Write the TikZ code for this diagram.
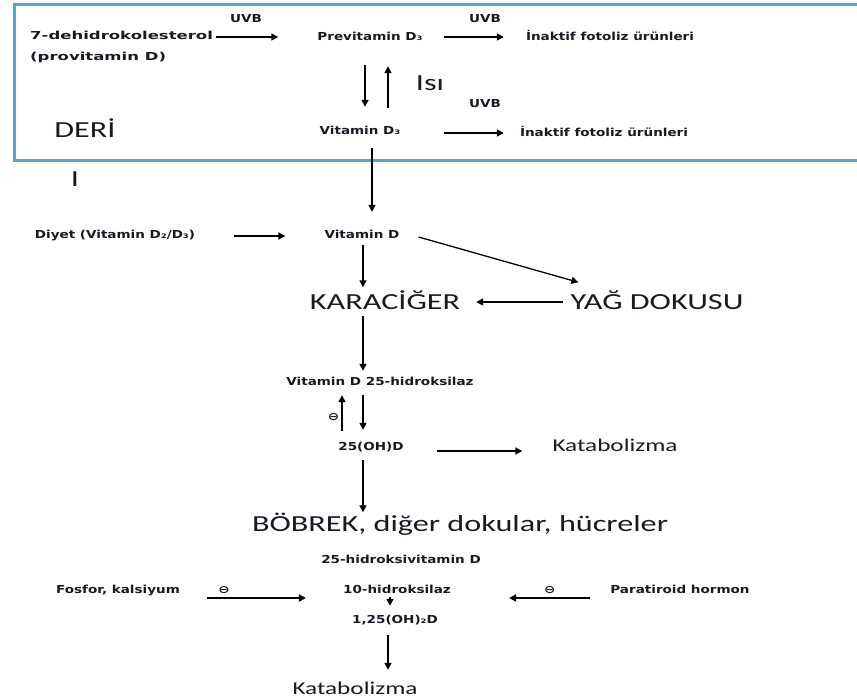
\documentclass[tikz,border=0pt]{standalone}
\usepackage{fontspec}
\usetikzlibrary{arrows.meta}
\newfontfamily\smallf[FakeStretch=1.23]{DejaVu Sans}
\newfontfamily\widef[FakeStretch=1.5]{DejaVu Sans}
\newfontfamily\bigf[FakeStretch=1.4]{Carlito}
\definecolor{skinblue}{RGB}{75,172,198}
\definecolor{txt}{RGB}{25,25,35}
\tikzset{
  sm/.style={font={\smallf\bfseries\fontsize{11}{13}\selectfont}, text=txt, inner sep=0pt, text height=8pt, text depth=2pt},
  big/.style={font={\bigf\fontsize{23}{27}\selectfont}, text=txt, inner sep=0pt, text height=17pt, text depth=2pt},
  mid/.style={font={\bigf\fontsize{18}{22}\selectfont}, text=txt, inner sep=0pt, text height=13pt, text depth=1pt},
  minus/.style={font={\smallf\bfseries\fontsize{11}{13}\selectfont}, text=txt, inner sep=0pt},
  arr/.style={-{Triangle[length=7pt,width=7pt]}, line width=1.6pt, draw=black},
  skin/.style={draw=skinblue, line width=3pt}
}
\begin{document}
\begin{tikzpicture}[x=1pt,y=-1pt]
\useasboundingbox (0,0) rectangle (857,699);
% skin box (open on the right)
\draw[skin] (875,4) -- (14,4) -- (14,160) -- (875,160);

% skin region nodes
\node[font={\widef\bfseries\fontsize{11}{21}\selectfont}, text=txt, inner sep=0pt, align=left, anchor=north west] (dehyd) at (30,31) {7-dehidrokolesterol\\(provitamin D)};
\node[sm] (uvb1) at (246,19) {UVB};
\node[sm] (previt) at (370,37) {Previtamin D₃};
\node[sm] (uvb2) at (485,19) {UVB};
\node[sm] (inakt1) at (610,37) {İnaktif fotoliz ürünleri};
\node[big] (isi) at (430,83) {Isı};
\node[sm] (uvb3) at (485,104) {UVB};
\node[sm] (vitd3) at (360,131) {Vitamin D₃};
\node[sm] (inakt2) at (604,133) {İnaktif fotoliz ürünleri};
\node[big] (deri) at (85,130) {DERİ};
\node[big] (bar) at (75,179) {I};

% middle
\node[sm] (diyet) at (115,235) {Diyet (Vitamin D₂/D₃)};
\node[sm] (vitd) at (362,235) {Vitamin D};
\node[big] (karaciger) at (385,302) {KARACİĞER};
\node[big] (yag) at (657,302) {YAĞ DOKUSU};
\node[sm] (hidrok) at (380,382) {Vitamin D 25-hidroksilaz};
\node[sm] (oh25) at (371,447) {25(OH)D};
\node[mid] (katab1) at (615,445) {Katabolizma};
\node[big] (bobrek) at (460,524) {BÖBREK, diğer dokular, hücreler};

% kidney region
\node[sm] (hidvit) at (401,560) {25-hidroksivitamin D};
\node[sm] (fosfor) at (118,590) {Fosfor, kalsiyum};
\node[sm] (alfa) at (397,590) {10-hidroksilaz};
\node[sm] (parat) at (680,590) {Paratiroid hormon};
\node[sm] (dihyd) at (395,620) {1,25(OH)₂D};
\node[mid] (katab2) at (355,688) {Katabolizma};

% arrows in the skin box
\draw[arr, shorten <=3pt, shorten >=39pt] (dehyd.east |- previt) -- (previt.west);
\draw[arr, shorten <=21pt, shorten >=22pt] (previt.east) -- (inakt1.west);
\draw[arr, shorten <=23pt, shorten >=19pt] ([xshift=-5pt]previt.south) -- ([xshift=5pt]vitd3.north);
\draw[arr, shorten <=18pt, shorten >=24pt] ([xshift=28pt]vitd3.north) -- ([xshift=18pt]previt.south);
\draw[arr, shorten <=43pt, shorten >=16pt] ([yshift=-2pt]vitd3.east) -- ([yshift=-2pt]vitd3.east -| inakt2.west);

% down to Vitamin D
\draw[arr, shorten <=12pt, shorten >=18pt] ([xshift=12pt]vitd3.south) -- ([xshift=12pt]vitd3.south |- vitd.north);
\draw[arr, shorten <=39pt, shorten >=39pt] ([yshift=-1pt]diyet.east) -- ([yshift=-1pt]diyet.east -| vitd.west);
\draw[arr, shorten <=5pt, shorten >=5pt] ([xshift=1pt]vitd.south) -- ([xshift=1pt]vitd.south |- karaciger.north);
\draw[arr, line width=1.3pt] ([xshift=19pt,yshift=-2pt]vitd.east) -- ([xshift=8pt,yshift=10pt]yag.north west);
\draw[arr, shorten <=7pt, shorten >=16pt] (yag.west) -- (karaciger.east);

% liver
\draw[arr, shorten <=4pt, shorten >=6pt] ([xshift=-22pt]karaciger.south) -- ([xshift=-22pt]karaciger.south |- hidrok.north);
\draw[arr, shorten <=8pt, shorten >=12pt] ([xshift=-8pt]oh25.north |- hidrok.south) -- ([xshift=-8pt]oh25.north);
\draw[arr, shorten <=11pt, shorten >=8pt] ([xshift=-29pt]oh25.north) -- ([xshift=-29pt]oh25.north |- hidrok.south)
  node[minus, pos=0.45, left=2pt] (om1) {⊖};
\draw[arr, shorten <=33pt, shorten >=30pt] ([yshift=-4pt]oh25.east) -- ([yshift=-4pt]oh25.east -| katab1.west);
\draw[arr, shorten <=8pt, shorten >=2pt] ([xshift=-8pt]oh25.south) -- ([xshift=-8pt]oh25.south |- bobrek.north);

% kidney
\draw[arr, shorten <=27pt, shorten >=37pt] ([yshift=-8pt]fosfor.east) -- ([yshift=-8pt]fosfor.east -| alfa.west)
  node[minus, pos=0.27, above=4pt] (om2) {⊖};
\draw[arr, shorten <=20pt, shorten >=58pt] ([yshift=-8pt]parat.west) -- ([yshift=-8pt]parat.west -| alfa.east)
  node[minus, pos=0.38, above=4pt] (om3) {⊖};
\draw[arr, shorten <=2pt, shorten >=9pt] ([xshift=-7pt]alfa.south) -- ([xshift=-7pt]alfa.south |- dihyd.north);
\draw[arr, shorten <=10pt, shorten >=11pt] ([xshift=-7pt]dihyd.south) -- ([xshift=-7pt]dihyd.south |- katab2.north);
\end{tikzpicture}
\end{document}
